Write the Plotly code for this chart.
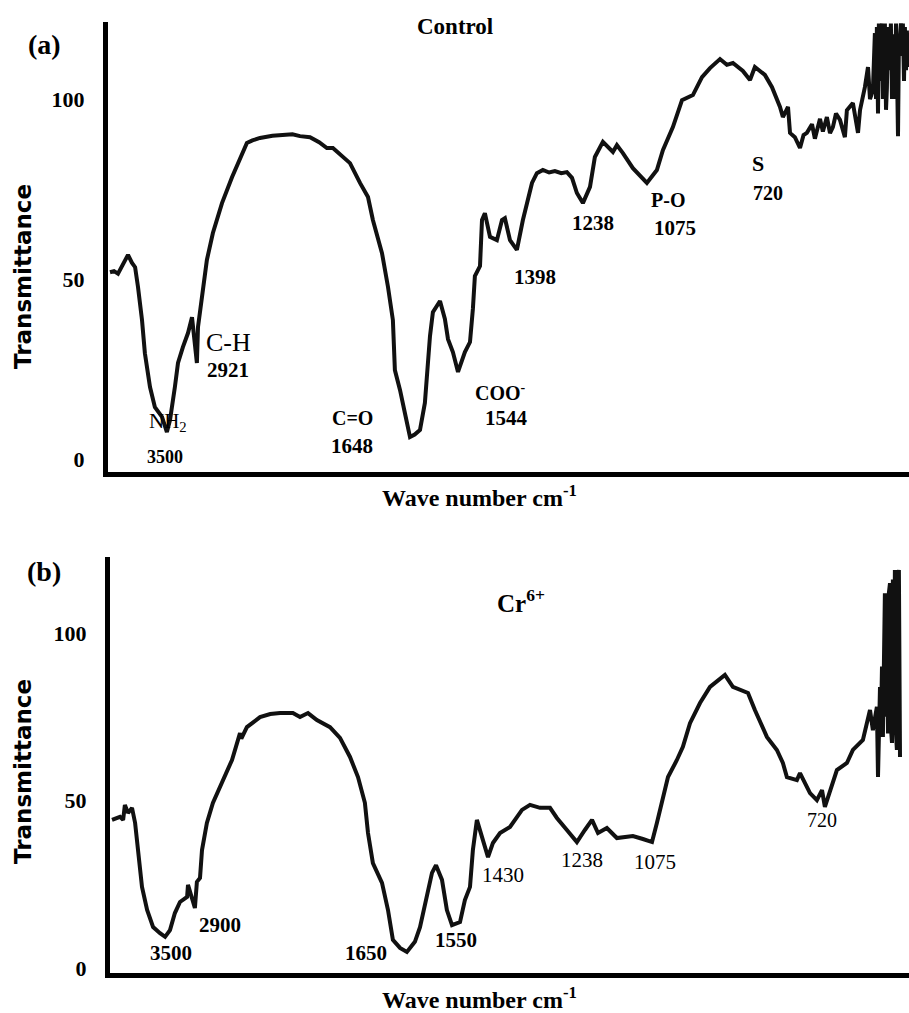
import plotly.graph_objects as go
from plotly.subplots import make_subplots

# ---------------- data ----------------
# Panel (a) Control: wave number (cm-1, nominal linear axis) and transmittance
a_wn = [3991, 3973, 3955, 3928, 3910, 3892, 3878, 3865, 3847, 3834,
        3811, 3789, 3757, 3735, 3721, 3699, 3685, 3663, 3640, 3622,
        3609, 3600, 3595, 3577, 3555, 3528, 3487, 3442, 3393, 3375,
        3350, 3316, 3260, 3213, 3170, 3136, 3091, 3050, 3015, 2988,
        2950, 2911, 2866, 2830, 2808, 2767, 2740, 2718, 2709, 2686,
        2664, 2641, 2620, 2596, 2574, 2551, 2538, 2506, 2484, 2470,
        2448, 2425, 2394, 2371, 2358, 2349, 2326, 2317, 2304, 2281,
        2250, 2227, 2214, 2191, 2160, 2133, 2092, 2070, 2043, 2015,
        1989, 1960, 1935, 1912, 1890, 1863, 1831, 1809, 1773, 1728,
        1710, 1683, 1638, 1575, 1530, 1503, 1458, 1417, 1368, 1327,
        1291, 1246, 1215, 1188, 1143, 1111, 1089, 1044, 1012, 976,
        963, 940, 931, 909, 886, 870, 855, 832, 819, 796,
        783, 765, 751, 738, 724, 706, 684, 675, 648, 625,
        616, 594, 580, 571, 558, 549, 544, 540, 535, 531,
        526, 522, 517, 513, 508, 504, 499, 495, 490, 486,
        481, 477, 472, 463, 459, 454, 450, 445, 441, 436,
        432, 427, 423, 418, 414, 409, 405, 400]
a_T = [51.9, 52.2, 51.5, 55.0, 56.7, 54.5, 53.3, 47.8, 38.6, 29.4,
       20.0, 14.4, 11.7, 7.5, 10.8, 20.0, 26.7, 31.1, 35.0, 39.4,
       33.1, 26.7, 36.7, 46.1, 55.3, 62.8, 71.1, 78.3, 85.0, 87.8,
       88.5, 89.2, 89.8, 90.0, 90.2, 89.7, 89.4, 88.0, 86.4, 86.4,
       84.5, 82.2, 76.7, 72.8, 66.4, 57.2, 47.8, 38.6, 24.7, 19.2,
       12.8, 6.1, 6.8, 8.1, 15.6, 34.2, 40.8, 43.9, 38.9, 33.3,
       29.7, 24.2, 29.7, 32.5, 41.7, 50.8, 53.6, 66.4, 68.3, 61.7,
       60.8, 66.4, 66.9, 60.8, 58.1, 66.4, 76.7, 79.4, 80.3, 79.6,
       80.0, 79.4, 79.7, 78.1, 73.9, 71.1, 75.6, 83.9, 88.1, 85.3,
       87.2, 85.0, 80.8, 76.7, 80.3, 85.8, 92.2, 99.7, 101.1, 106.1,
       108.6, 111.1, 109.5, 110.0, 107.8, 105.3, 108.9, 106.7, 103.3, 97.8,
       95.0, 97.8, 90.6, 89.4, 86.4, 90.0, 90.6, 93.0, 89.0, 94.5,
       91.0, 95.0, 90.5, 92.2, 96.0, 94.2, 89.4, 96.9, 98.9, 90.6,
       96.9, 103.3, 108.9, 100.0, 102.5, 118.3, 100.0, 120.0, 96.0, 121.0,
       105.0, 119.0, 121.0, 100.0, 118.0, 121.0, 97.0, 103.0, 120.0, 108.0,
       112.8, 121.0, 100.0, 118.0, 100.0, 121.0, 110.0, 89.7, 115.0, 117.0,
       121.0, 112.0, 121.0, 105.0, 120.0, 108.0, 119.0, 108.9]

# Panel (b) Cr6+
b_wn = [3982, 3964, 3946, 3932, 3924, 3910, 3892, 3878, 3865, 3847,
        3824, 3797, 3766, 3743, 3721, 3699, 3676, 3644, 3640, 3622,
        3609, 3600, 3586, 3577, 3555, 3528, 3487, 3442, 3415, 3406,
        3400, 3375, 3316, 3270, 3226, 3168, 3136, 3100, 3060, 3001,
        2956, 2911, 2875, 2844, 2830, 2808, 2767, 2740, 2718, 2686,
        2655, 2619, 2596, 2564, 2542, 2524, 2497, 2475, 2452, 2416,
        2394, 2371, 2358, 2340, 2317, 2290, 2268, 2236, 2191, 2178,
        2137, 2101, 2056, 2011, 1980, 1935, 1890, 1854, 1822, 1795,
        1755, 1710, 1674, 1638, 1593, 1552, 1530, 1503, 1480, 1440,
        1413, 1381, 1336, 1291, 1255, 1224, 1188, 1120, 1089, 1035,
        990, 963, 945, 900, 886, 841, 810, 787, 774, 738,
        720, 675, 648, 603, 571, 558, 549, 540, 535, 526,
        522, 517, 513, 508, 504, 499, 495, 490, 486, 481,
        477, 472, 468, 463, 459, 454, 450, 445, 441, 436]
b_T = [44.2, 44.8, 45.1, 44.2, 48.7, 46.3, 47.8, 43.3, 35.2, 24.2,
       17.3, 12.2, 10.4, 9.3, 11.3, 16.4, 19.7, 21.2, 24.8, 21.2,
       17.9, 25.7, 26.9, 35.2, 43.3, 49.3, 55.2, 62.1, 68.1, 70.1,
       68.5, 71.9, 74.9, 75.8, 76.1, 76.1, 74.9, 76.1, 74.0, 71.9,
       68.7, 63.0, 57.0, 49.3, 40.3, 31.3, 25.4, 17.3, 8.4, 6.0,
       4.8, 7.8, 12.2, 22.4, 28.4, 30.7, 26.3, 17.3, 12.8, 13.7,
       20.3, 24.2, 35.2, 44.2, 39.1, 33.1, 37.3, 40.3, 42.1, 43.3,
       47.2, 48.7, 47.8, 47.8, 44.8, 41.2, 37.6, 41.2, 44.2, 40.3,
       41.8, 38.8, 39.1, 39.4, 38.5, 37.6, 43.3, 51.0, 57.0, 62.1,
       66.0, 73.1, 79.1, 83.9, 86.0, 87.5, 83.9, 82.1, 77.0, 69.0,
       65.1, 61.2, 57.0, 56.1, 58.2, 52.2, 50.1, 53.1, 48.1, 55.2,
       59.1, 61.2, 65.1, 68.1, 77.0, 71.0, 74.0, 78.0, 57.0, 83.9,
       72.0, 90.0, 69.0, 100.0, 111.9, 75.0, 105.0, 70.0, 112.0, 114.9,
       72.0, 67.2, 116.0, 80.0, 118.8, 70.0, 65.1, 117.0, 118.8, 63.0]

y_ticks = [0, 50, 100]

# peak labels: (text, wave-number position, transmittance position)
a_labels = [("NH<sub>2</sub>", 3730, 10.3, False, 21),
            ("3500", 3744, 0.6, True, 18),
            ("C-H", 3456, 32.5, False, 26),
            ("2921", 3460, 24.7, True, 21),
            ("C=O", 2902, 11.4, True, 20),
            ("1648", 2902, 3.6, True, 21),
            ("COO<sup>-</sup>", 2236, 18.6, True, 20),
            ("1544", 2205, 11.4, True, 21),
            ("1398", 2079, 50.6, True, 21),
            ("1238", 1818, 65.6, True, 21),
            ("P-O", 1480, 71.9, True, 20),
            ("1075", 1449, 64.2, True, 21),
            ("S", 1075, 82.2, True, 22),
            ("720", 1030, 73.9, True, 20)]
b_labels = [("3500", 3716, 4.5, True, 21),
            ("2900", 3496, 12.8, True, 21),
            ("1650", 2839, 4.5, True, 21),
            ("1550", 2434, 8.4, True, 21),
            ("1430", 2222, 27.8, False, 21),
            ("1238", 1867, 32.2, False, 21),
            ("1075", 1538, 31.6, False, 21),
            ("720", 787, 44.2, False, 20)]

# ---------------- figure ----------------
W, H = 909, 1013
fig = make_subplots(rows=2, cols=1)
line = dict(color="#111111", width=4)
fig.add_trace(go.Scatter(x=a_wn, y=a_T, mode="lines", line=line), row=1, col=1)
fig.add_trace(go.Scatter(x=b_wn, y=b_T, mode="lines", line=line), row=2, col=1)

serif = "Liberation Serif"
tickfont = dict(family=serif, size=22, color="black", weight="bold")
common_x = dict(showgrid=False, zeroline=False, showticklabels=False, ticks="",
                showline=True, linecolor="black", linewidth=5, mirror=False)
common_y = dict(showgrid=False, zeroline=False, ticks="", tickvals=y_ticks,
                ticktext=[str(v) for v in y_ticks], tickfont=tickfont,
                ticklabelstandoff=14, showline=True, linecolor="black",
                linewidth=5, mirror=False)

fig.update_layout(
    width=W, height=H, margin=dict(l=0, r=0, t=0, b=0, autoexpand=False),
    plot_bgcolor="white", paper_bgcolor="white", showlegend=False,
    xaxis=dict(domain=[108 / W, 1], range=[4000, 395.5], anchor="y", **common_x),
    yaxis=dict(domain=[1 - 472 / H, 1 - 22 / H], range=[-3.6, 121.4], anchor="x", **common_y),
    xaxis2=dict(domain=[110 / W, 1], range=[3991, 395.5], anchor="y2", **common_x),
    yaxis2=dict(domain=[1 - 973 / H, 1 - 557 / H], range=[-1.5, 122.7], anchor="x2", **common_y),
)

ann = []
for txt, x, y, bold, sz in a_labels:
    ann.append(dict(text=txt, x=x, y=y, xref="x", yref="y", showarrow=False,
                    font=dict(family=serif, size=sz, color="black",
                              weight="bold" if bold else "normal")))
for txt, x, y, bold, sz in b_labels:
    ann.append(dict(text=txt, x=x, y=y, xref="x2", yref="y2", showarrow=False,
                    font=dict(family=serif, size=sz, color="black",
                              weight="bold" if bold else "normal")))


def paper(text, px, py, size, family=serif, bold=True, angle=0):
    return dict(text=text, x=px / W, y=1 - py / H, xref="paper", yref="paper",
                showarrow=False, textangle=angle, xanchor="center", yanchor="middle",
                font=dict(family=family, size=size, color="black",
                          weight="bold" if bold else "normal"))


ann += [
    paper("(a)", 44, 45, 28),
    paper("(b)", 44, 571, 28),
    paper("Control", 455, 26, 23),
    paper("Cr<sup>6+</sup>", 521, 601, 25),
    paper("Transmittance", 23, 277, 23, family="DejaVu Sans", angle=-90),
    paper("Transmittance", 23, 772, 23, family="DejaVu Sans", angle=-90),
    paper("Wave number cm<sup>-1</sup>", 480, 496, 24),
    paper("Wave number cm<sup>-1</sup>", 480, 998, 24),
]
fig.update_layout(annotations=ann)

fig.write_html("out.html")
